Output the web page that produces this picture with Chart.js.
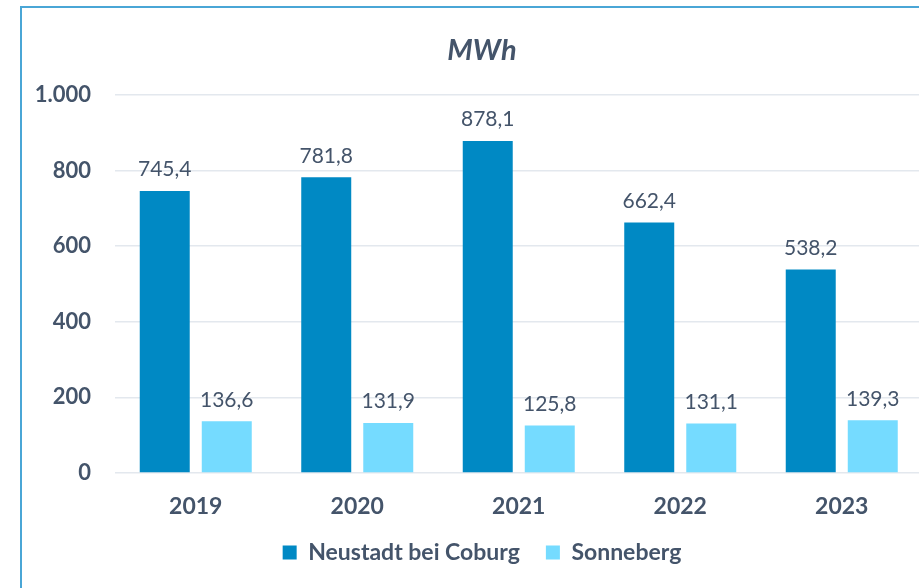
<!DOCTYPE html>
<html>
<head>
<meta charset="utf-8">
<script src="https://cdn.jsdelivr.net/npm/chart.js@4/dist/chart.umd.min.js"></script>
<style>
  html, body { margin: 0; padding: 0; background: #ffffff; overflow: hidden; }
  #wrap { position: relative; width: 919px; height: 588px; overflow: hidden; }
  #frame {
    position: absolute; left: 20px; top: 6px; width: 1000px; height: 700px;
    border-left: 2px solid #4aa6d6; border-top: 2px solid #4aa6d6; box-sizing: border-box;
  }
  #box { position: absolute; left: 0; top: 0; width: 964px; height: 588px; }
</style>
</head>
<body>
<div id="wrap">
  <div id="frame"></div>
  <div id="box"><canvas id="c" width="964" height="588"></canvas></div>
</div>
<script>
// Annual energy (MWh) for the two locations
const years = ['2019', '2020', '2021', '2022', '2023'];
const neustadt = [745.4, 781.8, 878.1, 662.4, 538.2];
const sonneberg = [136.6, 131.9, 125.8, 131.1, 139.3];
const yTicks = [0, 200, 400, 600, 800, 1000];

const textColor = '#44546a';
const fontFamily = 'Lato, "Open Sans", sans-serif';

const fmtDE = (v, digits) => v.toLocaleString('de-DE', { minimumFractionDigits: digits, maximumFractionDigits: digits });

// Value labels drawn above each bar
const valueLabels = {
  id: 'valueLabels',
  afterDatasetsDraw(chart) {
    const ctx = chart.ctx;
    ctx.save();
    ctx.font = '21px ' + fontFamily;
    ctx.fillStyle = textColor;
    ctx.textAlign = 'center';
    ctx.textBaseline = 'bottom';
    chart.data.datasets.forEach((ds, i) => {
      chart.getDatasetMeta(i).data.forEach((bar, j) => {
        ctx.fillText(fmtDE(ds.data[j], 1), bar.x, bar.y - 11);
      });
    });
    ctx.restore();
  }
};

// Centre title and legend on the whole frame instead of the padded area
const centreBlocks = {
  id: 'centreBlocks',
  afterLayout(chart) {
    const shift = chart.options.layout.padding.right / 2;
    [chart.titleBlock, chart.legend].forEach(b => {
      if (b) { b.left += shift; b.right += shift; }
    });
  }
};

new Chart(document.getElementById('c'), {
  type: 'bar',
  data: {
    labels: years,
    datasets: [
      { label: 'Neustadt bei Coburg', data: neustadt, backgroundColor: '#0089c4' },
      { label: 'Sonneberg', data: sonneberg, backgroundColor: '#75dbff' }
    ]
  },
  options: {
    responsive: false,
    animation: false,
    devicePixelRatio: 1,
    categoryPercentage: 0.768,
    barPercentage: 0.806,
    layout: { padding: { left: 0, right: 41.5, top: 0, bottom: 14 } },
    plugins: {
      title: {
        display: true,
        text: 'MWh',
        color: textColor,
        font: { family: fontFamily, size: 29, weight: 'bold', style: 'italic' },
        padding: { top: 33, bottom: 27 }
      },
      legend: {
        position: 'bottom',
        labels: {
          color: textColor,
          font: { family: fontFamily, size: 23, weight: 'bold' },
          boxWidth: 14,
          boxHeight: 14,
          padding: 26
        }
      },
      tooltip: { enabled: false }
    },
    scales: {
      x: {
        grid: { display: false, drawTicks: false },
        border: { display: false },
        afterFit(scale) { scale.height = 42; },
        ticks: {
          color: textColor,
          font: { family: fontFamily, size: 23, weight: 'bold' },
          padding: 20
        }
      },
      y: {
        min: 0,
        max: 1000,
        afterBuildTicks(scale) { scale.ticks = yTicks.map(v => ({ value: v })); },
        afterFit(scale) { scale.width = 115; },
        grid: { color: '#e3e8ee', lineWidth: 1.5, drawTicks: false },
        border: { display: false },
        ticks: {
          color: textColor,
          font: { family: fontFamily, size: 22, weight: 'bold' },
          padding: 24,
          callback: (v) => fmtDE(v, 0)
        }
      }
    }
  },
  plugins: [valueLabels, centreBlocks]
});
</script>
</body>
</html>
